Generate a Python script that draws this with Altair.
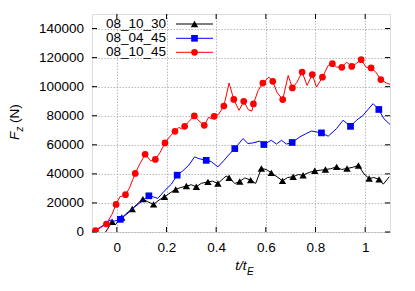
import altair as alt
import pandas as pd

# ---------------- data ----------------
series_names = ["08_10_30", "08_04_45", "08_10_45"]
series_colors = ["#000000", "#0000ff", "#ff0000"]
series_shapes = ["triangle-up", "square", "circle"]

# 08_10_30 (black)
t_a = [-0.045, -0.03, -0.019, -0.005, 0.011, 0.03, 0.045, 0.062, 0.08, 0.105, 0.125, 0.148, 0.17, 0.192,
       0.215, 0.237, 0.255, 0.28, 0.3, 0.32, 0.34, 0.367, 0.385, 0.407, 0.43, 0.44, 0.452, 0.475, 0.495,
       0.515, 0.539, 0.559, 0.582, 0.602, 0.622, 0.645, 0.667, 0.688, 0.71, 0.73, 0.75, 0.775, 0.797,
       0.82, 0.84, 0.86, 0.885, 0.905, 0.927, 0.95, 0.973, 0.995, 1.016, 1.035, 1.056, 1.073, 1.097]
f_a = [0, 4000, 7100, 5000, 9400, 11000, 13000, 15800, 19000, 22600, 20800, 19000, 22000, 24200,
       27000, 29300, 30500, 31600, 32500, 31100, 33500, 34500, 35000, 33400, 37000, 38500, 37300, 33400, 34800,
       37200, 35700, 33400, 43700, 43000, 40700, 38000, 35200, 37500, 38000, 39500, 39100, 41000, 42100,
       42500, 43000, 43500, 44800, 43000, 43700, 44500, 45800, 40000, 36800, 37500, 36200, 32900, 38000]
mt_a = [-0.019, 0.02, 0.062, 0.105, 0.148, 0.192, 0.237, 0.28, 0.32, 0.367, 0.407, 0.452, 0.495, 0.539,
        0.582, 0.622, 0.667, 0.71, 0.75, 0.797, 0.84, 0.885, 0.927, 0.973, 1.016, 1.056]
mf_a = [7100, 10000, 15800, 22600, 19000, 24200, 29300, 31600, 31100, 34500, 33400, 37300, 34800, 35700,
        43700, 40700, 35200, 38000, 39100, 42100, 43000, 44800, 43700, 45800, 36800, 36200]

# 08_04_45 (blue)
t_b = [-0.1, -0.075, -0.05, -0.027, -0.01, 0.014, 0.04, 0.07, 0.1, 0.129, 0.15, 0.165, 0.19, 0.22, 0.243,
       0.265, 0.29, 0.313, 0.33, 0.36, 0.38, 0.407, 0.43, 0.45, 0.475, 0.49, 0.508, 0.528, 0.548, 0.575,
       0.592, 0.622, 0.643, 0.663, 0.683, 0.706, 0.737, 0.76, 0.784, 0.824, 0.851, 0.885, 0.911, 0.941,
       0.965, 0.99, 1.01, 1.032, 1.055, 1.075, 1.1]
f_b = [700, 2500, 5000, 8200, 7500, 8700, 13000, 17000, 21000, 24900, 24000, 23100, 28000, 33000, 39100,
       42000, 46000, 51700, 50500, 49300, 48500, 44800, 49000, 53000, 57400, 60500, 64300, 60900, 61300, 62500,
       60200, 63100, 60500, 63100, 60500, 61600, 65400, 67500, 69500, 68200, 65900, 71200, 76900, 72700,
       76900, 80000, 84000, 88300, 84300, 78000, 74000]
mt_b = [0.014, 0.129, 0.243, 0.36, 0.475, 0.592, 0.706, 0.824, 0.941, 1.055]
mf_b = [8700, 24900, 39100, 49300, 57400, 60200, 61600, 68200, 72700, 84300]

# 08_10_45 (red)
t_c = [-0.1, -0.086, -0.065, -0.042, -0.02, -0.003, 0.012, 0.035, 0.05, 0.074, 0.09, 0.114, 0.137, 0.155,
       0.175, 0.194, 0.215, 0.234, 0.25, 0.26, 0.273, 0.29, 0.312, 0.331, 0.352, 0.37, 0.38, 0.392, 0.41,
       0.431, 0.452, 0.471, 0.492, 0.511, 0.53, 0.544, 0.55, 0.569, 0.588, 0.612, 0.628, 0.645, 0.668,
       0.69, 0.707, 0.725, 0.746, 0.766, 0.787, 0.804, 0.828, 0.851, 0.868, 0.885, 0.906, 0.925, 0.946,
       0.965, 0.984, 1.003, 1.024, 1.043, 1.063, 1.086, 1.1]
f_c = [0, 900, 3000, 5500, 12000, 19000, 24200, 25700, 30000, 40300, 46000, 53500, 48900, 49900,
       55000, 61300, 66000, 69300, 72000, 71000, 72700, 76000, 79900, 76400, 73400, 79000, 78000, 79600, 81000,
       86700, 102500, 91200, 83700, 89900, 84000, 83200, 88100, 97400, 102500, 106600, 103700, 96000, 91100,
       107700, 99100, 103000, 110100, 100900, 108300, 99700, 106500, 114600, 115800, 113500, 113300, 116900, 113900,
       116000, 118600, 113500, 112900, 110000, 104900, 102500, 101600]
mt_c = [-0.086, -0.042, -0.003, 0.035, 0.074, 0.114, 0.155, 0.194, 0.234, 0.273, 0.312, 0.352, 0.392, 0.431,
        0.471, 0.511, 0.55, 0.588, 0.628, 0.668, 0.707, 0.746, 0.787, 0.828, 0.868, 0.906, 0.946, 0.984,
        1.024, 1.063]
mf_c = [900, 5500, 19000, 25700, 40300, 53500, 49900, 61300, 69300, 72700, 79900, 73400, 79600, 86700,
        91200, 89900, 88100, 102500, 103700, 91100, 99100, 110100, 108300, 106500, 115800, 113300, 113900, 118600,
        112900, 104900]

x_ticks = [0, 0.2, 0.4, 0.6, 0.8, 1]
y_ticks = [0, 20000, 40000, 60000, 80000, 100000, 120000, 140000]
y_tick_labels = ["0", "20000", "40000", "60000", "80000", "100000", "120000", "140000"]
x_domain = [-0.1, 1.1]
y_domain = [0, 150000]

# ---------------- layout ----------------
W, H = 298, 218
FONT = "Liberation Sans"

line_sets = [(t_a, f_a), (t_b, f_b), (t_c, f_c)]
marker_sets = [(mt_a, mf_a), (mt_b, mf_b), (mt_c, mf_c)]
marker_sizes = [55, 45, 45]

xs = alt.Scale(domain=x_domain, nice=False, zero=False)
ys = alt.Scale(domain=y_domain, nice=False)

x_axis = alt.Axis(values=x_ticks, format="~g", ticks=False, tickSize=0, labelPadding=8,
                  labelOverlap=False, labelFlush=False,
                  labelFont=FONT, labelFontSize=13.5, labelColor="#000", title=None,
                  grid=True, gridColor="#a8a8a8", gridDash=[1.5, 1.5], gridWidth=0.8, domain=False)
y_axis = alt.Axis(values=y_ticks, ticks=False, tickSize=0, labels=False, title=None,
                  grid=True, gridColor="#a8a8a8", gridDash=[1.5, 1.5], gridWidth=0.8, domain=False)

X = lambda: alt.X("t:Q", scale=xs, axis=x_axis)
Y = lambda: alt.Y("F:Q", scale=ys, axis=y_axis)

layers = []

# axes/grid carrier (invisible)
axis_df = pd.DataFrame({"t": x_domain, "F": y_domain})
layers.append(alt.Chart(axis_df).mark_point(opacity=0).encode(x=X(), y=Y()))

# y tick labels
ylab_df = pd.DataFrame({"F": y_ticks, "lab": y_tick_labels})
layers.append(alt.Chart(ylab_df).mark_text(font=FONT, fontSize=13.5, align="right", baseline="middle",
                                           color="#000").encode(
    y=Y(), x=alt.value(-8), text="lab:N"))

# inward ticks on all four sides
xt_df = pd.DataFrame({"t": x_ticks})
yt_df = pd.DataFrame({"F": y_ticks})
layers.append(alt.Chart(xt_df).mark_rule(color="#000", strokeWidth=1).encode(
    x=X(), y=alt.value(H), y2=alt.value(H - 5)))
layers.append(alt.Chart(xt_df).mark_rule(color="#000", strokeWidth=1).encode(
    x=X(), y=alt.value(0), y2=alt.value(5)))
layers.append(alt.Chart(yt_df).mark_rule(color="#000", strokeWidth=1).encode(
    y=Y(), x=alt.value(0), x2=alt.value(5)))
layers.append(alt.Chart(yt_df).mark_rule(color="#000", strokeWidth=1).encode(
    y=Y(), x=alt.value(W), x2=alt.value(W - 5)))

# series
for i, name in enumerate(series_names):
    lt, lf = line_sets[i]
    mt, mf = marker_sets[i]
    ldf = pd.DataFrame({"t": lt, "F": lf, "idx": range(len(lt))})
    mdf = pd.DataFrame({"t": mt, "F": mf})
    layers.append(alt.Chart(ldf).mark_line(color=series_colors[i], strokeWidth=1, clip=True).encode(
        x=X(), y=Y(), order="idx:Q"))
    layers.append(alt.Chart(mdf).mark_point(shape=series_shapes[i], filled=True, opacity=1,
                                            color=series_colors[i], size=marker_sizes[i], clip=True).encode(
        x=X(), y=Y()))

# legend (gnuplot style: text, then sample)
row_y = [10, 24.3, 38.3]
for i, name in enumerate(series_names):
    one = pd.DataFrame({"label": [name]})
    layers.append(alt.Chart(one).mark_text(font=FONT, fontSize=13.5, align="left", baseline="middle",
                                           color="#000").encode(
        x=alt.value(14), y=alt.value(row_y[i]), text="label:N"))
    layers.append(alt.Chart(one).mark_rule(color=series_colors[i], strokeWidth=1).encode(
        x=alt.value(84), x2=alt.value(121), y=alt.value(row_y[i])))
    layers.append(alt.Chart(one).mark_point(shape=series_shapes[i], filled=True, opacity=1,
                                            color=series_colors[i], size=marker_sizes[i]).encode(
        x=alt.value(102.5), y=alt.value(row_y[i])))

# axis titles
def txt(s, x, y, size, style="normal", angle=0, align="left"):
    d = pd.DataFrame({"s": [s]})
    return alt.Chart(d).mark_text(font=FONT, fontSize=size, fontStyle=style, angle=angle,
                                  align=align, baseline="alphabetic", color="#000").encode(
        x=alt.value(x), y=alt.value(y), text="s:N")

layers.append(txt("t/t", 154.5, 256, 13.5, "italic", 0, "right"))
layers.append(txt("E", 155, 260.5, 10, "italic", 0, "left"))
layers.append(txt("F", -73, 126, 13.5, "italic", 270, "left"))
layers.append(txt("z", -69.5, 117.5, 10, "italic", 270, "left"))
layers.append(txt("(N)", -73, 109, 13.5, "normal", 270, "left"))

chart = alt.layer(*layers).properties(
    width=W, height=H,
    autosize=alt.AutoSizeParams(type="none"),
    padding={"left": 84, "top": 6, "right": 12, "bottom": 55},
).configure_view(stroke="#000", strokeWidth=1.3).configure(background="white")

chart.save("out.html", embed_options={"renderer": "svg", "actions": False})
